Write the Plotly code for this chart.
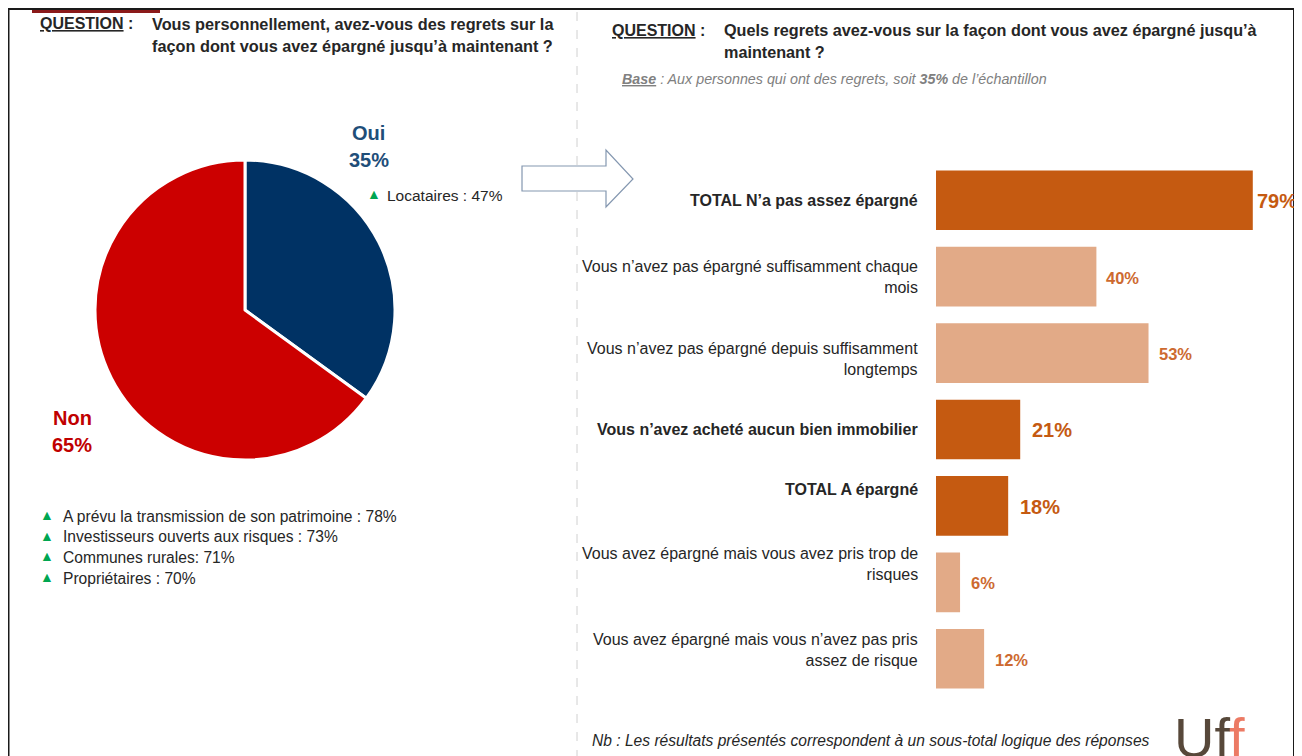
import plotly.graph_objects as go

# page body has an 8px margin: figure is 1294x748 and placed at (8, 8)
OFF = 8
W, H = 1302 - OFF, 756 - OFF
def px(x): return (x - OFF) / W
def py(y): return 1 - (y - OFF) / H

FONT = "Liberation Sans, Arial, sans-serif"
TXT = "#262626"

# ---------------- data ----------------
pie_labels = ["Oui", "Non"]
pie_values = [35, 65]
pie_colors = ["#003264", "#CC0000"]

oui_notes = ["Locataires : 47%"]
non_notes = ["A prévu la transmission de son patrimoine : 78%",
             "Investisseurs ouverts aux risques : 73%",
             "Communes rurales: 71%",
             "Propriétaires : 70%"]

categories = ["TOTAL N’a pas assez épargné",
              "Vous n’avez pas épargné suffisamment chaque<br>mois",
              "Vous n’avez pas épargné depuis suffisamment<br>longtemps",
              "Vous n’avez acheté aucun bien immobilier",
              "TOTAL A épargné",
              "Vous avez épargné mais vous avez pris trop de<br>risques",
              "Vous avez épargné mais vous n’avez pas pris<br>assez de risque"]
values = [79, 40, 53, 21, 18, 6, 12]
is_total = [True, False, False, True, True, False, False]

DARK = "#C55A11"
LIGHT = "#E2AA87"

fig = go.Figure()

# pie
fig.add_trace(go.Pie(
    labels=pie_labels, values=pie_values, sort=False, direction="clockwise",
    rotation=0, marker=dict(colors=pie_colors, line=dict(color="white", width=3)),
    textinfo="none", hoverinfo="label+percent", showlegend=False,
    domain=dict(x=[px(95), px(395)], y=[py(460), py(160)])
))

# bars
fig.add_trace(go.Bar(
    x=values, y=categories, orientation="h",
    marker=dict(color=[DARK if t else LIGHT for t in is_total], line=dict(width=0)),
    width=0.78, showlegend=False, hoverinfo="x+y"
))

fig.update_xaxes(domain=[px(936), px(936 + 4.01 * 88)], range=[0, 88],
                 visible=False, fixedrange=True)
fig.update_yaxes(domain=[py(697), py(162)], range=[6.5, -0.5], visible=False,
                 type="category", fixedrange=True)

ann = []
def text(x, y, s, size=14, color=TXT, bold=False, italic=False, anchor="left", va="middle", **kw):
    if bold: s = f"<b>{s}</b>"
    if italic: s = f"<i>{s}</i>"
    ann.append(dict(x=px(x), y=py(y), xref="paper", yref="paper", text=s, showarrow=False,
                    xanchor=anchor, yanchor=va, align=anchor if anchor != "center" else "center",
                    font=dict(family=FONT, size=size, color=color), **kw))

# titles
text(38, 24, "<u>QUESTION</u> :", 16, bold=True)
text(150, 24, "Vous personnellement, avez-vous des regrets sur la", 16.3, bold=True)
text(150, 46, "façon dont vous avez épargné jusqu’à maintenant ?", 16.3, bold=True)
text(610, 30, "<u>QUESTION</u> :", 16, bold=True)
text(722, 30, "Quels regrets avez-vous sur la façon dont vous avez épargné jusqu’à", 16.2, bold=True)
text(722, 52, "maintenant ?", 16.2, bold=True)
text(620, 79, "<b><u>Base</u></b> : Aux personnes qui ont des regrets, soit <b>35%</b> de l’échantillon",
     14.3, color="#808080", italic=True)

# pie labels
text(368, 133, pie_labels[0], 20, color="#1F4E79", bold=True, anchor="center")
text(369, 160, f"{pie_values[0]}%", 20, color="#1F4E79", bold=True, anchor="center")
text(72, 418, pie_labels[1], 20, color="#C00000", bold=True, anchor="center")
text(72, 445, f"{pie_values[1]}%", 20, color="#C00000", bold=True, anchor="center")

GREEN = "#00A651"
for i, s in enumerate(oui_notes):
    text(365, 194 + i * 21, "▲", 14, color=GREEN)
    text(385, 195 + i * 21, s, 15.5)
for i, s in enumerate(non_notes):
    text(38, 515 + i * 20.7, "▲", 14, color=GREEN)
    text(61, 516 + i * 20.7, s, 15.6)

# bar category labels
shifts = [0, 0, -6, 0, 16, 18, 9]
for c, t, sh in zip(categories, is_total, shifts):
    ann.append(dict(x=0, y=c, xref="x", yref="y", xanchor="right", yanchor="middle",
                    xshift=-16, yshift=sh, showarrow=False, align="right",
                    text=f"<b>{c}</b>" if t else c,
                    font=dict(family=FONT, size=16, color=TXT)))

# bar value labels
gaps = [2, 8, 8, 10, 10, 9, 9]
for c, v, t, g in zip(categories, values, is_total, gaps):
    ann.append(dict(x=v, y=c, xref="x", yref="y", xanchor="left", yanchor="middle",
                    xshift=g, yshift=-1, showarrow=False, text=f"<b>{v}%</b>",
                    font=dict(family=FONT, size=20 if t else 16.5,
                              color=DARK if t else "#CD6A30")))

# footer
text(590, 740, "Nb : Les résultats présentés correspondent à un sous-total logique des réponses",
     15.6, italic=True)
text(1172, 737, "<span style='color:#57483A'>Uf</span><span style='color:#EC7A64'>f</span>",
     56, anchor="left")

shapes = []
# frame
shapes.append(dict(type="rect", xref="paper", yref="paper", x0=px(8.5), x1=px(1294),
                   y0=py(780), y1=py(9), line=dict(color="#1A1A1A", width=2)))
shapes.append(dict(type="line", xref="paper", yref="paper", x0=px(32), x1=px(160),
                   y0=py(11.5), y1=py(11.5), line=dict(color="#8B1A1A", width=3)))
# separator
shapes.append(dict(type="line", xref="paper", yref="paper", x0=px(577), x1=px(577),
                   y0=py(12), y1=py(756), line=dict(color="#D0D0D0", width=1, dash="dash")))
# arrow
pts = [(522, 166), (606, 166), (606, 150), (633, 179), (606, 207), (606, 191), (522, 191)]
path = "M " + " L ".join(f"{px(a):.5f},{py(b):.5f}" for a, b in pts) + " Z"
shapes.append(dict(type="path", xref="paper", yref="paper", path=path,
                   line=dict(color="#8497B0", width=1.2), fillcolor="white"))

fig.update_layout(width=W, height=H, autosize=False,
                  margin=dict(l=0, r=0, t=0, b=0),
                  paper_bgcolor="white", plot_bgcolor="white",
                  annotations=ann, shapes=shapes,
                  font=dict(family=FONT))

fig.write_html("out.html")
